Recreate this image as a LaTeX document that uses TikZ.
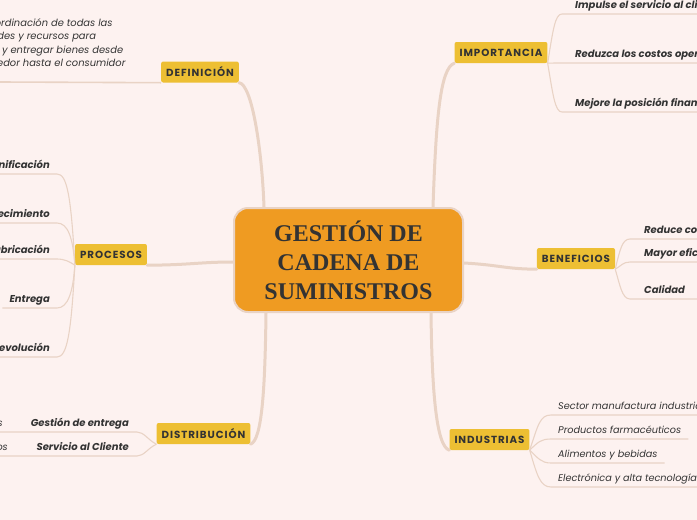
\documentclass[tikz,border=0pt]{standalone}
\usepackage{fontspec}
\usepackage{xcolor}
\usepackage{tikz}
\setmainfont{Poppins}
\newfontfamily\titlefont{Liberation Serif}
\usetikzlibrary{positioning}

\definecolor{fondo}{HTML}{FDF2F0}
\definecolor{linea}{HTML}{E9D3C5}
\definecolor{naranja}{HTML}{EF9B22}
\definecolor{amarillo}{HTML}{EDBF33}
\definecolor{texto}{HTML}{333333}

\tikzset{
  centro/.style={draw=linea, line width=2pt, fill=naranja, rounded corners=14pt,
    minimum width=229pt, minimum height=104pt, align=center, text=texto,
    font=\titlefont\bfseries\fontsize{24}{29}\selectfont},
  tema/.style={fill=amarillo, rounded corners=2pt, inner xsep=5pt, minimum height=21pt,
    text=texto, font=\bfseries\fontsize{10.3}{12}\selectfont\addfontfeature{LetterSpace=9}},
  hoja/.style={inner ysep=3pt, text height=7.5pt, text depth=2.5pt, text=texto,
    font=\bfseries\itshape\fontsize{10}{12}\selectfont},
  hojafina/.style={hoja, font=\itshape\fontsize{9.7}{12}\selectfont},
  parrafo/.style={inner sep=0pt, align=left, text=texto,
    font=\itshape\fontsize{9.9}{13.4}\selectfont},
  rama/.style={draw=linea, line width=3pt, line cap=round},
  ramita/.style={draw=linea, line width=1.1pt}
}

\begin{document}
\begin{tikzpicture}[x=1pt,y=-1pt]
\fill[fondo] (0,0) rectangle (697,520);
\clip (0,0) rectangle (697,520);

% centre
\node[centro] (gcs) at (348.5,260) {GESTIÓN DE\\CADENA DE\\SUMINISTROS};

% main topics
\node[tema] (def) at (200,72) {DEFINICIÓN};
\node[tema] (imp) at (501,52.5) {IMPORTANCIA};
\node[tema] (pro) at (111,254.5) {PROCESOS};
\node[tema] (ben) at (576,258.5) {BENEFICIOS};
\node[tema] (dis) at (203.5,433.5) {DISTRIBUCIÓN};
\node[tema] (ind) at (489.5,439.5) {INDUSTRIAS};

\draw[rama] (def.south east) .. controls (252,84) and (262,150) .. ([xshift=31pt]gcs.north west);
\draw[rama] ([xshift=-31pt]gcs.north east) .. controls (436,120) and (440,68) .. (imp.south west);
\draw[rama] (pro.south east) .. controls (190,265) and (200,262) .. ([yshift=-2pt]gcs.west);
\draw[rama] ([yshift=-3pt]gcs.east) .. controls (500,265) and (505,269) .. (ben.south west);
\draw[rama] ([xshift=33pt]gcs.south west) .. controls (265,390) and (262,440) .. (dis.south east);
\draw[rama] ([xshift=-33pt]gcs.south east) .. controls (432,390) and (436,446) .. (ind.south west);

% definicion
\coordinate (defin) at (0,82);
\node[parrafo, anchor=west] (dtxt) at (-43,44)
  {Es la coordinación de todas las\\actividades y recursos para\\producir y entregar bienes desde\\el proveedor hasta el consumidor};
\draw[ramita, line width=1.6pt] (def.south west) -- (defin);

% importancia
\node[hoja, inner xsep=13pt, anchor=south west] (i1) at (562,14) {Impulse el servicio al cliente};
\node[hoja, inner xsep=13pt, anchor=south west] (i2) at (562,63) {Reduzca los costos operativos};
\node[hoja, inner xsep=13pt, anchor=south west] (i3) at (562,112) {Mejore la posición financiera};
\draw[ramita] (imp.south east) .. controls (553,30) and (555,14) .. (i1.south west) -- (i1.south east);
\draw[ramita] (imp.south east) .. controls (553,63) and (556,63) .. (i2.south west) -- (i2.south east);
\draw[ramita] (imp.south east) .. controls (553,95) and (555,112) .. (i3.south west) -- (i3.south east);

% procesos
\node[hoja, inner xsep=7pt, anchor=south east] (p1) at (57,174) {Planificación};
\node[hoja, inner xsep=7pt, anchor=south east] (p2) at (57,223) {Abastecimiento};
\node[hoja, inner xsep=7pt, anchor=south east] (p3) at (57,259) {Fabricación};
\node[hoja, inner xsep=7pt, anchor=south east] (p4) at (57,308) {Entrega};
\node[hoja, inner xsep=7pt, anchor=south east] (p5) at (57,357) {Devolución};
\draw[ramita] (pro.south west) .. controls (71,195) and (67,174) .. (p1.south east) -- (p1.south west);
\draw[ramita] (pro.south west) .. controls (73,238) and (68,223) .. (p2.south east) -- (p2.south west);
\draw[ramita] (pro.south west) .. controls (70,262) and (65,259) .. (p3.south east) -- (p3.south west);
\draw[ramita] (pro.south west) .. controls (73,292) and (68,308) .. (p4.south east) -- (p4.south west);
\draw[ramita] (pro.south west) .. controls (71,335) and (67,357) .. (p5.south east) -- (p5.south west);

% beneficios
\node[hoja, inner xsep=14pt, anchor=south west] (b1) at (630,239) {Reduce costos};
\node[hoja, inner xsep=14pt, anchor=south west] (b2) at (630,262) {Mayor eficiencia};
\node[hoja, inner xsep=14pt, anchor=south west] (b3) at (630,299) {Calidad};
\draw[ramita] (ben.south east) .. controls (620,250) and (622,239) .. (b1.south west) -- (b1.south east);
\draw[ramita] (ben.south east) .. controls (621,266) and (623,262) .. (b2.south west) -- (b2.south east);
\draw[ramita] (ben.south east) .. controls (620,285) and (622,299) .. (b3.south west) -- (b3.south east);

% distribucion
\node[hoja, inner xsep=8pt, anchor=south east] (d1) at (137,432) {Gestión de entrega};
\node[hoja, inner xsep=8pt, anchor=south east] (d2) at (137,456) {Servicio al Cliente};
\node[hojafina, inner xsep=7pt, anchor=south east] (d1a) at (10,432) {Rutas};
\node[hojafina, inner xsep=7pt, anchor=south east] (d2a) at (15,456) {Reclamos};
\draw[ramita] (dis.south west) .. controls (148,440) and (144,432) .. (d1.south east) -- (d1a.south east) -- (d1a.south west);
\draw[ramita] (dis.south west) .. controls (148,448) and (144,456) .. (d2.south east) -- (d2a.south east) -- (d2a.south west);

% industrias
\node[hojafina, inner xsep=7pt, anchor=south west] (n1) at (551,415) {Sector manufactura industrial};
\node[hojafina, inner xsep=7pt, anchor=south west] (n2) at (551,439) {Productos farmacéuticos};
\node[hojafina, inner xsep=7pt, anchor=south west] (n3) at (551,463) {Alimentos y bebidas};
\node[hojafina, inner xsep=7pt, anchor=south west] (n4) at (551,487) {Electrónica y alta tecnología};
\draw[ramita] (ind.south east) .. controls (538,425) and (540,415) .. (n1.south west) -- (n1.south east);
\draw[ramita] (ind.south east) .. controls (538,442) and (541,439) .. (n2.south west) -- (n2.south east);
\draw[ramita] (ind.south east) .. controls (538,458) and (541,463) .. (n3.south west) -- (n3.south east);
\draw[ramita] (ind.south east) .. controls (537,475) and (540,487) .. (n4.south west) -- (n4.south east);
\end{tikzpicture}
\end{document}
